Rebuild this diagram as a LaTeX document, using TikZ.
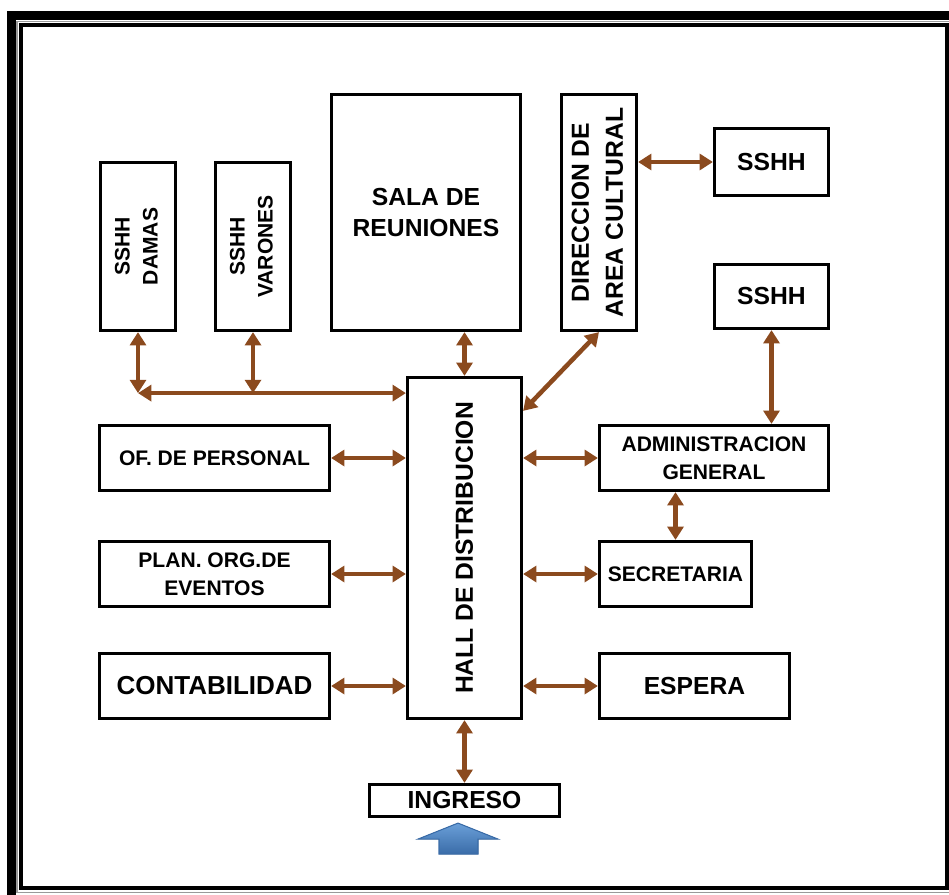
\documentclass[tikz,border=0pt]{standalone}
\usepackage{fontspec}
\setmainfont{Liberation Sans}
\usepackage{graphicx}
\usetikzlibrary{arrows.meta,positioning,calc}
\definecolor{rust}{HTML}{8B4A1E}
\definecolor{skyarrow}{HTML}{6A9FD8}
\definecolor{deeparrow}{HTML}{3A6CA8}
\definecolor{framegray}{HTML}{9A9A9A}
\tikzset{
  roombox/.style={
    rectangle, draw=black, line width=2.4pt, fill=white,
    inner sep=0pt, align=center
  },
  bigtext/.style={font=\fontsize{18.5}{23}\selectfont\bfseries},
  smalltext/.style={font=\fontsize{15.8}{21}\selectfont\bfseries},
  linkarrow/.style={
    {Triangle[length=10pt,width=12pt]}-{Triangle[length=10pt,width=12pt]},
    line width=3.4pt, color=rust
  },
  entryarrow/.style={
    draw=deeparrow, line width=0.8pt, top color=skyarrow, bottom color=deeparrow
  },
}
\newcommand{\uptext}[1]{\rotatebox{90}{\begin{tabular}{@{}c@{}}#1\end{tabular}}}

\begin{document}
\begin{tikzpicture}[x=0.75pt, y=-0.75pt]
  \useasboundingbox (0,0) rectangle (949,895);
  \clip (0,0) rectangle (949,895);

  % Page frame
  \draw[line width=6.75pt] (11.5,15.5) rectangle (980,930);
  \draw[framegray, line width=0.8pt] (17,21.5) rectangle (953,892.5);
  \draw[line width=2.6pt] (21,25) rectangle (947,888);

  % Rooms, top row
  \node[roombox, smalltext, minimum width=56.25pt, minimum height=126pt]
    (damas) at (138,246.5) {\uptext{SSHH\\DAMAS}};
  \node[roombox, smalltext, minimum width=56.25pt, minimum height=126pt]
    (varones) at (253,246.5) {\uptext{SSHH\\VARONES}};
  \node[roombox, bigtext, minimum width=141.75pt, minimum height=177pt]
    (sala) at (426,212.5) {SALA DE\\REUNIONES};
  \node[roombox, font=\fontsize{18.5}{25.5}\selectfont\bfseries,
    minimum width=56.25pt, minimum height=177pt]
    (direccion) at (599,212.5) {\uptext{DIRECCION DE\\AREA CULTURAL}};
  \node[roombox, bigtext, minimum width=85.5pt, minimum height=50.25pt]
    (sshhA) at (771.5,162) {SSHH};
  \node[roombox, bigtext, minimum width=85.5pt, minimum height=48pt]
    (sshhB) at (771.5,296.5) {SSHH};

  % Hall
  \node[roombox, bigtext, minimum width=85.5pt, minimum height=255.75pt]
    (hall) at (464.5,548) {\rotatebox{90}{HALL DE DISTRIBUCION}};

  % Rooms, left column
  \node[roombox, smalltext, minimum width=172.5pt, minimum height=48.75pt]
    (personal) at (214.5,458) {OF. DE PERSONAL};
  \node[roombox, smalltext, minimum width=172.5pt, minimum height=48.75pt]
    (eventos) at (214.5,574) {PLAN. ORG.DE\\EVENTOS};
  \node[roombox, font=\fontsize{19.5}{23}\selectfont\bfseries,
    minimum width=172.5pt, minimum height=48.75pt]
    (contabilidad) at (214.5,686) {CONTABILIDAD};

  % Rooms, right column
  \node[roombox, smalltext, minimum width=171.75pt, minimum height=48.75pt]
    (admin) at (714,458) {ADMINISTRACION\\GENERAL};
  \node[roombox, smalltext, minimum width=114pt, minimum height=48.75pt]
    (secretaria) at (675.5,574) {SECRETARIA};
  \node[roombox, bigtext, minimum width=142.5pt, minimum height=48.75pt]
    (espera) at (694.5,686) {ESPERA};

  % Entrance
  \node[roombox, bigtext, minimum width=142.5pt, minimum height=24pt]
    (ingreso) at (464.5,800.5) {INGRESO};
  \filldraw[entryarrow]
    ($(ingreso.south)+(-6.5,5)$) -- ++(40,16) -- ++(-20,0) -- ++(0,15)
    -- ++(-39,0) -- ++(0,-15) -- ++(-21,0) -- cycle;

  % Links
  \coordinate (damasfoot) at ($(damas.south)+(0,61)$);
  \draw[linkarrow] (damas.south) -- (damasfoot);
  \draw[linkarrow] (varones.south) -- (varones.south |- damasfoot);
  \draw[linkarrow] (damasfoot) -- (damasfoot -| hall.west);
  \draw[linkarrow] (hall.north) -- (hall.north |- sala.south);
  \draw[linkarrow] ($(hall.north east)+(0,35)$) -- (direccion.south);
  \draw[linkarrow] (sshhA.west) -- (sshhA.west -| direccion.east);
  \draw[linkarrow] (sshhB.south) -- (sshhB.south |- admin.north);
  \draw[linkarrow] (personal.east) -- (personal.east -| hall.west);
  \draw[linkarrow] (eventos.east) -- (eventos.east -| hall.west);
  \draw[linkarrow] (contabilidad.east) -- (contabilidad.east -| hall.west);
  \draw[linkarrow] (admin.west) -- (admin.west -| hall.east);
  \draw[linkarrow] (secretaria.west) -- (secretaria.west -| hall.east);
  \draw[linkarrow] (espera.west) -- (espera.west -| hall.east);
  \draw[linkarrow] (secretaria.north) -- (secretaria.north |- admin.south);
  \draw[linkarrow] (hall.south) -- (ingreso.north);
\end{tikzpicture}
\end{document}
